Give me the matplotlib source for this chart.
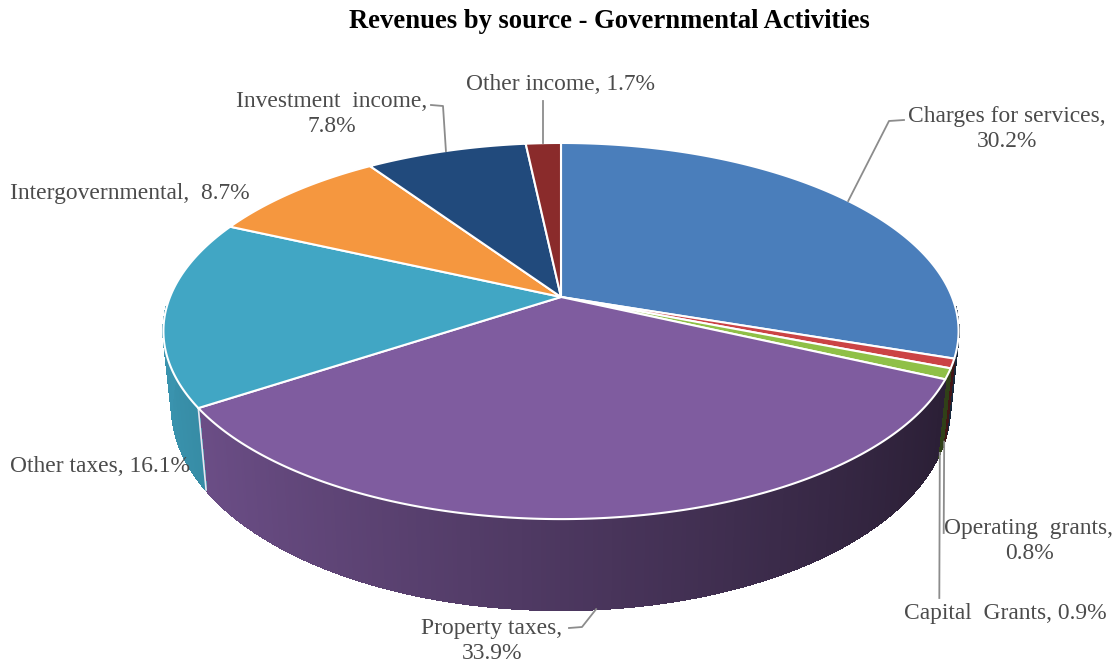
import numpy as np
import matplotlib
matplotlib.use("Agg")
import matplotlib.pyplot as plt
from matplotlib.collections import PolyCollection
from matplotlib.colors import to_rgb

# chart data, clockwise from 12 o'clock
sources = ["Charges for services", "Operating grants", "Capital Grants", "Property taxes",
           "Other taxes", "Intergovernmental", "Investment income", "Other income"]
shares = [30.2, 0.8, 0.9, 33.9, 16.1, 8.7, 7.8, 1.7]
labels = ["Charges for services,\n30.2%", "Operating  grants,\n0.8%", "Capital  Grants, 0.9%",
          "Property taxes,\n33.9%", "Other taxes, 16.1%", "Intergovernmental,  8.7%",
          "Investment  income,\n7.8%", "Other income, 1.7%"]
colors = ["#4a7ebb", "#cb4345", "#8fc047", "#7f5c9f", "#41a6c4", "#f5973f", "#214a7c", "#8a2b2b"]

# pie geometry in pixels, the fake 3d is a projected circle
CX = 561
PERSP = 0.181
TOP_R, TOP_H, TOP_Y = 391, 181.9, 297
LOW_R, LOW_H, LOW_Y = 382.6, 196.7, 369.8


def project(theta, r, h, y0, radius=1.0):
    u = radius * np.sin(theta)
    v = radius * np.cos(theta)
    d = 1 + PERSP * v
    return CX + r * u / d, y0 - h * v / d


def top(theta, radius=1.0):
    return project(theta, TOP_R, TOP_H, TOP_Y, radius)


def low(theta):
    return project(theta, LOW_R, LOW_H, LOW_Y)


def shade(color, theta):
    # wall gets darker going left to right
    f = np.clip(0.60 - 0.29 * np.sin(theta), 0.3, 1)
    return tuple(c * f for c in to_rgb(color))


edges = np.cumsum([0] + shares) / sum(shares) * 2 * np.pi
mids = (edges[:-1] + edges[1:]) / 2

fig = plt.figure(figsize=(11.15, 6.65), dpi=100)
ax = fig.add_axes([0, 0, 1, 1])
ax.set_xlim(0, 1115)
ax.set_ylim(665, 0)
ax.axis("off")
plt.rcParams["font.family"] = ["Liberation Serif", "DejaVu Serif"]

# side wall, small strips so the shading can change along the arc
strips, strip_colors = [], []
for i in range(len(shares)):
    n = max(int((edges[i + 1] - edges[i]) / 0.01), 2)
    t = np.linspace(edges[i], edges[i + 1], n + 1)
    for a, b in zip(t[:-1], t[1:]):
        if np.cos((a + b) / 2) > -0.05:
            continue
        strips.append([top(a), top(b), low(b), low(a)])
        strip_colors.append(shade(colors[i], (a + b) / 2))
ax.add_collection(PolyCollection(strips, facecolors=strip_colors, edgecolors=strip_colors,
                                 linewidths=1.0, antialiaseds=False, zorder=1))

# white seam where property taxes wall starts on the left
seam = edges[4]
ax.plot(*zip(top(seam), low(seam)), color="#e9e4f0", lw=1.2, zorder=2)

# top face
for i in range(len(shares)):
    t = np.linspace(edges[i], edges[i + 1], 200)
    x, y = top(t)
    ax.fill(np.r_[CX, x], np.r_[TOP_Y, y], facecolor=colors[i], edgecolor="white",
            linewidth=1.5, joinstyle="round", zorder=3)

# leader lines, start is taken from the slice, the rest goes to the label
line = dict(color="#8c8c8c", lw=1.3, zorder=4)
x0, y0 = top(mids[0])
ax.plot([x0, 889, 904], [y0, 121, 120], **line)
x0, y0 = low(mids[1])
ax.plot([x0, x0 - 0.5], [y0, 533], **line)
x0, y0 = low(mids[2])
ax.plot([x0, x0 - 0.5], [y0, 598], **line)
x0, y0 = low(mids[3])
ax.plot([x0, 582, 569], [y0, 627, 628], **line)
x0, y0 = top(mids[6])
ax.plot([x0, 443, 431], [y0, 106, 105], **line)
x0, y0 = top(mids[7])
ax.plot([x0, x0], [y0, 101], **line)

label_pos = [(1007, 129), (1029, 541), (1005, 614), (492, 641), (100, 466), (130, 194), (332, 114), (561, 84)]
for s, (x, y) in zip(labels, label_pos):
    ax.text(x, y, s, ha="center", va="center", fontsize=16.9, color="#4b4b4b",
            linespacing=1.29, zorder=5)

ax.text(609, 22, "Revenues by source - Governmental Activities", ha="center", va="center",
        fontsize=19.2, fontweight="bold", color="black")

fig.savefig("out.png", dpi=100)
